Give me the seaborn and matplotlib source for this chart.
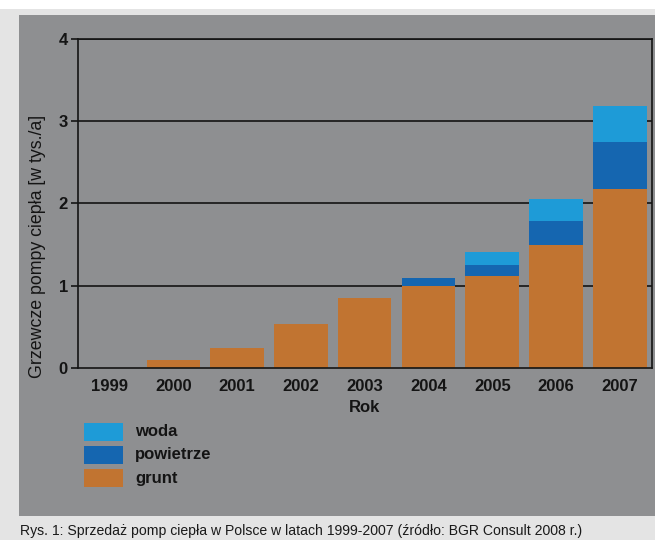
import numpy as np
import pandas as pd
import matplotlib
matplotlib.use("Agg")
import matplotlib.pyplot as plt
from matplotlib.patches import Rectangle
import seaborn as sns

# Heat pump sales in Poland, thousands of units per year
years = ["1999", "2000", "2001", "2002", "2003", "2004", "2005", "2006", "2007"]
grunt = [0.0, 0.10, 0.24, 0.53, 0.85, 1.00, 1.12, 1.50, 2.18]
powietrze = [0.0, 0.0, 0.0, 0.0, 0.0, 0.09, 0.13, 0.29, 0.57]
woda = [0.0, 0.0, 0.0, 0.0, 0.0, 0.0, 0.16, 0.26, 0.43]
yticks = [0, 1, 2, 3, 4]

series_names = ["woda", "powietrze", "grunt"]
colors = {"grunt": "#c17431", "powietrze": "#1566b0", "woda": "#1e9bd7"}

PANEL = "#8e8f91"
FRAME = "#e4e4e4"
INK = "#141414"

sns.set_theme(style="white")
plt.rcParams["font.family"] = ["Liberation Sans", "DejaVu Sans"]

df = pd.DataFrame({"rok": years, "grunt": grunt, "powietrze": powietrze, "woda": woda})
df["grunt_top"] = df["grunt"]
df["powietrze_top"] = df["grunt"] + df["powietrze"]
df["woda_top"] = df["grunt"] + df["powietrze"] + df["woda"]

fig = plt.figure(figsize=(6.55, 5.4), dpi=100)
fig.patch.set_facecolor("white")

# framed gray panel with light border and caption strip
W, H = 655.0, 540.0
fig.patches.append(Rectangle((0, 0), 1, (H - 9) / H, transform=fig.transFigure,
                             facecolor=FRAME, edgecolor="none", zorder=-3))
fig.patches.append(Rectangle((19 / W, (H - 516) / H), 1 - 19 / W, (516 - 15) / H,
                             transform=fig.transFigure, facecolor=PANEL,
                             edgecolor="none", zorder=-2))

ax = fig.add_axes([77.7 / W, (H - 368) / H, (651.7 - 77.7) / W, (368 - 38.7) / H])
ax.set_facecolor(PANEL)

# stacked bars: draw cumulative tops from back to front
for name in series_names:
    sns.barplot(data=df, x="rok", y=f"{name}_top", color=colors[name],
                width=0.84, saturation=1, ax=ax, zorder=3, linewidth=0)

ax.set_xlim(-0.5, 8.5)
ax.set_ylim(0, 4)
ax.set_yticks(yticks)
ax.set_yticklabels([str(t) for t in yticks])
for t in yticks[1:]:
    ax.axhline(t, color=INK, lw=1.2, zorder=1)

for side in ["left", "right", "top", "bottom"]:
    ax.spines[side].set_visible(True)
    ax.spines[side].set_color(INK)
    ax.spines[side].set_linewidth(1.2)
ax.spines["bottom"].set_zorder(4)

ax.tick_params(axis="y", which="both", left=True, length=5, width=1.2, color=INK,
               pad=2, labelsize=12, labelcolor=INK)
ax.tick_params(axis="x", bottom=False, pad=2, labelsize=12, labelcolor=INK)
for lab in ax.get_xticklabels() + ax.get_yticklabels():
    lab.set_fontweight("bold")

ax.set_xlabel("Rok", fontsize=12, fontweight="bold", color=INK, labelpad=4)
ax.set_ylabel("Grzewcze pompy ciepła [w tys./a]", fontsize=12.8, color=INK)
ax.yaxis.set_label_coords(-0.055, 0.37)

# legend block under the plot
leg_x0, leg_w, leg_h = 84, 39, 18
for i, name in enumerate(series_names):
    top = 423 + i * 23
    fig.patches.append(Rectangle((leg_x0 / W, (H - top - leg_h) / H), leg_w / W, leg_h / H,
                                 transform=fig.transFigure, facecolor=colors[name],
                                 edgecolor="none", zorder=2))
    fig.text(135 / W, (H - top - leg_h / 2) / H, name, fontsize=12, fontweight="bold",
             color=INK, va="center", ha="left")

fig.text(20 / W, (H - 531) / H,
         "Rys. 1: Sprzedaż pomp ciepła w Polsce w latach 1999-2007 (źródło: BGR Consult 2008 r.)",
         fontsize=10.1, color="#1a1a1a", va="center", ha="left")

fig.savefig("out.png", dpi=100, facecolor=fig.get_facecolor())
